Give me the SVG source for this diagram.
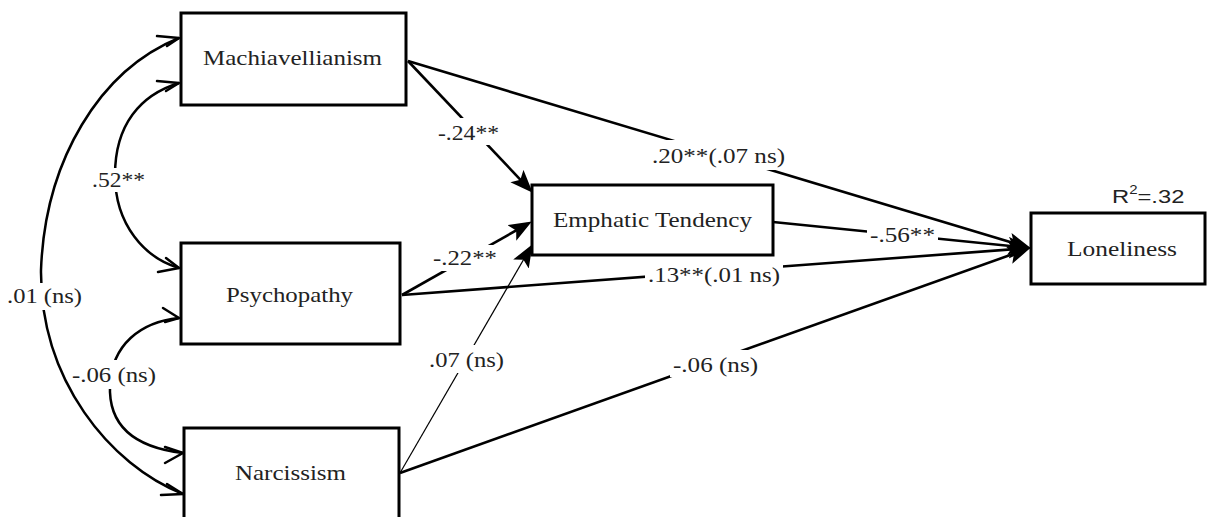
<svg xmlns="http://www.w3.org/2000/svg" width="1208" height="517" viewBox="0 0 1208 517">
<defs>
<style>
.node rect{fill:#fff;stroke:#000;stroke-width:3}
.nl,.el{font-family:'Liberation Serif','DejaVu Serif','Noto Serif',Times,serif;font-size:22px;fill:#222}
.bg{fill:#fff}
.c{fill:none;stroke:#000;stroke-width:2.6}
.thin{fill:none;stroke:#000;stroke-width:1.2}
.arc{fill:none;stroke:#000;stroke-width:2.5}
.barb{fill:none;stroke:#000;stroke-width:2.5;stroke-linecap:round}
</style>
<marker id="ah" markerUnits="userSpaceOnUse" markerWidth="26" markerHeight="20" refX="18" refY="9" orient="auto">
<path d="M0,0 L23,9 L0,18 L5,9 z" fill="#000"/>
</marker>
</defs>
<rect width="1208" height="517" fill="#fff"/>

<g id="connectors">
  <path class="arc" d="M179,38 C100,70 45,160 41,270 C40,380 110,465 183,494"/>
  <path class="arc" d="M179,83 C140,95 115,125 115,175 C115,225 145,258 179,268"/>
  <path class="arc" d="M179,318 C140,322 112,345 110,385 C108,430 140,448 183,453"/>
  <path class="barb" d="M157,36 L179,38 M167,46 L179,38"/>
  <path class="barb" d="M157,81 L179,83 M166,91 L179,83"/>
  <path class="barb" d="M158,272 L179,268 M166,258 L179,268"/>
  <path class="barb" d="M163,308 L179,318 M165,322 L179,318"/>
  <path class="barb" d="M165,463 L183,453 M165,447 L183,453"/>
  <path class="barb" d="M161,495 L183,494 M167,484 L183,494"/>
  <line class="c" x1="408" y1="61" x2="529.3" y2="189.1" marker-end="url(#ah)"/>
  <line class="c" x1="402" y1="295" x2="527.5" y2="224" marker-end="url(#ah)"/>
  <line class="thin" x1="400" y1="473" x2="530" y2="248.5" marker-end="url(#ah)"/>
  <line class="c" x1="408" y1="61" x2="1026.2" y2="246.8" marker-end="url(#ah)"/>
  <line class="c" x1="773" y1="222" x2="1026" y2="247.6" marker-end="url(#ah)"/>
  <line class="c" x1="402" y1="295" x2="1026" y2="248.3" marker-end="url(#ah)"/>
  <line class="c" x1="400" y1="473" x2="1026.2" y2="249.3" marker-end="url(#ah)"/>
</g>

<g id="labels">
  <rect class="bg" x="89" y="168" width="59" height="24"/>
  <text class="el" font-family="Liberation Serif, serif" x="92" y="187" textLength="53" lengthAdjust="spacingAndGlyphs">.52**</text>
  <rect class="bg" x="4" y="283" width="81" height="27"/>
  <text class="el" x="7" y="303" textLength="75" lengthAdjust="spacingAndGlyphs">.01 (ns)</text>
  <rect class="bg" x="75" y="360" width="84" height="29"/>
  <text class="el" x="72" y="382" textLength="84" lengthAdjust="spacingAndGlyphs">-.06 (ns)</text>
  <rect class="bg" x="435" y="118" width="67" height="27"/>
  <text class="el" x="438" y="140" textLength="61" lengthAdjust="spacingAndGlyphs">-.24**</text>
  <rect class="bg" x="649" y="140" width="139" height="30"/>
  <text class="el" x="652" y="163" textLength="133" lengthAdjust="spacingAndGlyphs">.20**(.07 ns)</text>
  <rect class="bg" x="430" y="245" width="72" height="26"/>
  <text class="el" x="433" y="265" textLength="64" lengthAdjust="spacingAndGlyphs">-.22**</text>
  <rect class="bg" x="645" y="263" width="138" height="24"/>
  <text class="el" x="648" y="282" textLength="132" lengthAdjust="spacingAndGlyphs">.13**(.01 ns)</text>
  <rect class="bg" x="426" y="345" width="81" height="28"/>
  <text class="el" x="429" y="367" textLength="75" lengthAdjust="spacingAndGlyphs">.07 (ns)</text>
  <rect class="bg" x="670" y="350" width="91" height="27"/>
  <text class="el" x="673" y="372" textLength="85" lengthAdjust="spacingAndGlyphs">-.06 (ns)</text>
  <rect class="bg" x="867" y="228" width="71" height="20"/>
  <text class="el" x="870" y="242" textLength="65" lengthAdjust="spacingAndGlyphs">-.56**</text>
  <text transform="translate(1112,203) scale(1.25,1)" font-family="'Liberation Sans',Arial,sans-serif" font-size="19" fill="#222">R<tspan font-size="12" dy="-9">2</tspan><tspan dy="9">=.32</tspan></text>
</g>

<g id="machiavellianism" class="node">
  <rect x="181" y="13" width="225" height="92"/>
  <text class="nl" x="203" y="65" textLength="179" lengthAdjust="spacingAndGlyphs">Machiavellianism</text>
</g>
<g id="psychopathy" class="node">
  <rect x="181" y="243" width="219" height="101"/>
  <text class="nl" x="226" y="302" textLength="127" lengthAdjust="spacingAndGlyphs">Psychopathy</text>
</g>
<g id="narcissism" class="node">
  <rect x="184" y="428" width="215" height="95"/>
  <text class="nl" x="235" y="480" textLength="111" lengthAdjust="spacingAndGlyphs">Narcissism</text>
</g>
<g id="emphatic-tendency" class="node">
  <rect x="532" y="185" width="241" height="70"/>
  <text class="nl" x="553" y="227" textLength="199" lengthAdjust="spacingAndGlyphs">Emphatic Tendency</text>
</g>
<g id="loneliness" class="node">
  <rect x="1031" y="213" width="174" height="71"/>
  <text class="nl" x="1067" y="256" textLength="110" lengthAdjust="spacingAndGlyphs">Loneliness</text>
</g>
</svg>
